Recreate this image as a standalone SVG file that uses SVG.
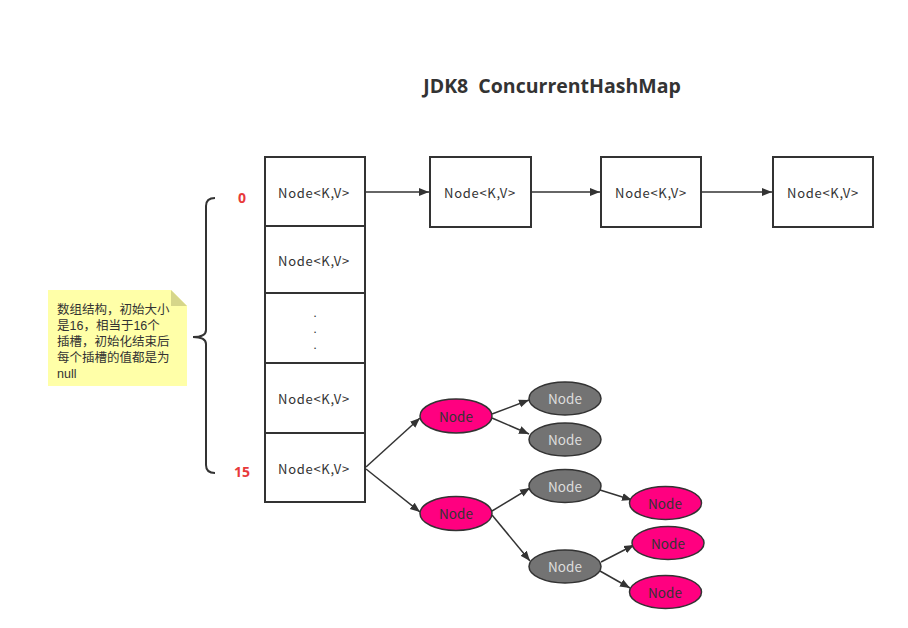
<svg xmlns="http://www.w3.org/2000/svg" width="908" height="628" viewBox="0 0 908 628">
<style>
text{font-family:"Noto Sans CJK SC","Open Sans",sans-serif;}
.box{fill:#fff;stroke:#333;stroke-width:2;}
.lbl{font-size:13px;letter-spacing:0.7px;fill:#333;text-anchor:middle;dominant-baseline:central;}
.dot{font-size:13px;fill:#333;text-anchor:middle;font-family:"Liberation Sans",sans-serif;}
.pink{fill:#ff0080;stroke:#333;stroke-width:1.5;}
.gray{fill:#737373;stroke:#333;stroke-width:1.5;}
.pt{font-size:13.5px;fill:#333;text-anchor:middle;dominant-baseline:central;}
.gt{font-size:13.5px;fill:#ddd;text-anchor:middle;dominant-baseline:central;}
.con{stroke:#333;stroke-width:1.5;fill:none;marker-end:url(#ah);}
.idx{font-size:14px;font-weight:bold;fill:#e83a3a;text-anchor:middle;dominant-baseline:central;font-family:"Open Sans",sans-serif;}
.note{font-size:12.5px;fill:#333;font-family:"Liberation Sans","Noto Sans CJK SC",sans-serif;}
</style>
<defs>
<marker id="ah" viewBox="0 0 10 10" refX="10" refY="5" markerWidth="10" markerHeight="10" markerUnits="userSpaceOnUse" orient="auto">
<path d="M0,1 L10,5 L0,9 z" fill="#333"/>
</marker>
</defs>
<rect width="908" height="628" fill="#fff"/>
<text x="552" y="85" font-size="19.5" font-weight="bold" fill="#333" text-anchor="middle" dominant-baseline="central" style="font-family:'Open Sans',sans-serif">JDK8&#160;&#160;ConcurrentHashMap</text>

<g id="note">
<path d="M48,290 H171 L187,306 V386 H48 Z" fill="#ffff99" fill-opacity="0.85" stroke="none"/>
<path d="M171,290 L187,306 H171 Z" fill="#d6d68a"/>
<text class="note" x="57" y="314">数组结构，初始大小</text>
<text class="note" x="57" y="330">是16，相当于16个</text>
<text class="note" x="57" y="346">插槽，初始化结束后</text>
<text class="note" x="57" y="362">每个插槽的值都是为</text>
<text class="note" x="57" y="378">null</text>
</g>

<g id="brace">
<path d="M215,198 Q206,198 206,206 V330 Q206,337 193,337 Q206,337 206,344 V465 Q206,473 215,473" fill="none" stroke="#333" stroke-width="2"/>
</g>
<text class="idx" x="242" y="197">0</text>
<text class="idx" x="242" y="471">15</text>

<g id="array">
<rect class="box" x="265" y="157" width="100" height="345"/>
<line x1="265" y1="226" x2="365" y2="226" stroke="#333" stroke-width="2"/>
<line x1="265" y1="293" x2="365" y2="293" stroke="#333" stroke-width="2"/>
<line x1="265" y1="363" x2="365" y2="363" stroke="#333" stroke-width="2"/>
<line x1="265" y1="433" x2="365" y2="433" stroke="#333" stroke-width="2"/>
<text class="lbl" x="314" y="192">Node&lt;K,V&gt;</text>
<text class="lbl" x="314" y="260">Node&lt;K,V&gt;</text>
<text class="dot" x="315" y="317">.</text>
<text class="dot" x="315" y="333">.</text>
<text class="dot" x="315" y="349">.</text>
<text class="lbl" x="314" y="398">Node&lt;K,V&gt;</text>
<text class="lbl" x="314" y="468">Node&lt;K,V&gt;</text>
</g>

<g id="chain1"><rect class="box" x="430" y="157" width="101" height="70"/><text class="lbl" x="480" y="192">Node&lt;K,V&gt;</text></g>
<g id="chain2"><rect class="box" x="601" y="157" width="100" height="70"/><text class="lbl" x="651" y="192">Node&lt;K,V&gt;</text></g>
<g id="chain3"><rect class="box" x="773" y="157" width="100" height="70"/><text class="lbl" x="823" y="192">Node&lt;K,V&gt;</text></g>

<g id="connectors">
<line class="con" x1="365" y1="192" x2="429" y2="192"/>
<line class="con" x1="531" y1="192" x2="600" y2="192"/>
<line class="con" x1="701" y1="192" x2="772" y2="192"/>
<line class="con" x1="366" y1="467" x2="420" y2="418"/>
<line class="con" x1="366" y1="469" x2="420" y2="512"/>
<line class="con" x1="492" y1="414" x2="529" y2="400"/>
<line class="con" x1="492" y1="418" x2="529" y2="434"/>
<line class="con" x1="492" y1="511" x2="530" y2="488"/>
<line class="con" x1="492" y1="515" x2="530" y2="561"/>
<line class="con" x1="600" y1="490" x2="632" y2="500"/>
<line class="con" x1="601" y1="562" x2="634" y2="545"/>
<line class="con" x1="600" y1="571" x2="630" y2="588"/>
</g>

<g id="p1"><ellipse class="pink" cx="456" cy="416" rx="36" ry="17"/><text class="pt" x="456" y="416">Node</text></g>
<g id="p2"><ellipse class="pink" cx="456" cy="513.5" rx="36" ry="17"/><text class="pt" x="456" y="513">Node</text></g>
<g id="g1"><ellipse class="gray" cx="565" cy="398.5" rx="36" ry="16.5"/><text class="gt" x="565" y="398">Node</text></g>
<g id="g2"><ellipse class="gray" cx="565" cy="439.5" rx="36" ry="16.5"/><text class="gt" x="565" y="439">Node</text></g>
<g id="g3"><ellipse class="gray" cx="565" cy="486" rx="36" ry="16.5"/><text class="gt" x="565" y="486">Node</text></g>
<g id="g4"><ellipse class="gray" cx="565" cy="566.5" rx="36" ry="16.5"/><text class="gt" x="565" y="566">Node</text></g>
<g id="p3"><ellipse class="pink" cx="665.5" cy="503" rx="36" ry="16.5"/><text class="pt" x="665" y="503">Node</text></g>
<g id="p4"><ellipse class="pink" cx="668" cy="543" rx="36" ry="16.5"/><text class="pt" x="668" y="543">Node</text></g>
<g id="p5"><ellipse class="pink" cx="665.5" cy="592" rx="36" ry="16.5"/><text class="pt" x="665" y="592">Node</text></g>
</svg>
